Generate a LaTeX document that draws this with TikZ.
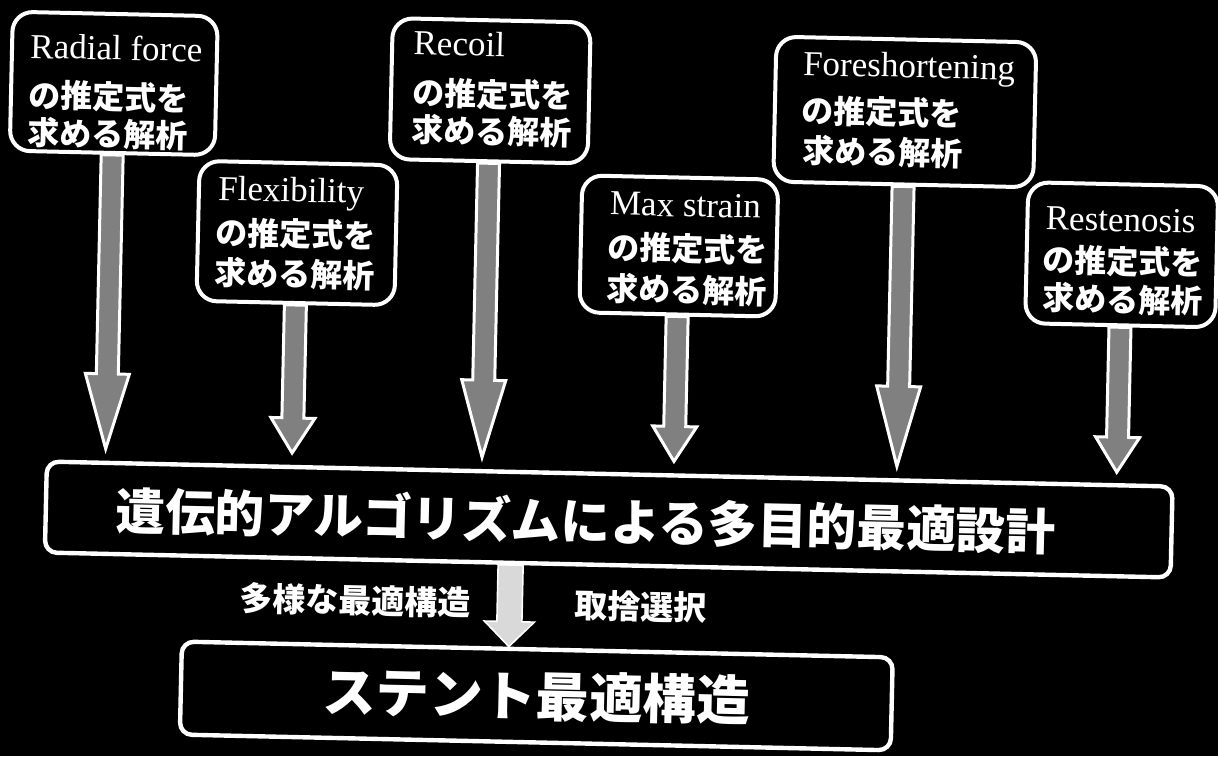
\documentclass[tikz,border=0pt]{standalone}
\usepackage{fontspec}
\setmainfont{Liberation Serif}
\newfontfamily\jp{Noto Sans CJK JP}
\newfontfamily\enfont{Liberation Serif}
\usetikzlibrary{calc}
\definecolor{arrowgray}{gray}{0.5}
\definecolor{smallgray}{gray}{0.85}
\tikzset{
  topbox/.style={draw=white, line width=2pt, rounded corners=10pt, inner sep=0pt},
  bigbox/.style={draw=white, line width=2.2pt, rounded corners=6pt, inner sep=0pt},
  engtxt/.style={text=white, font=\enfont\fontsize{17.5}{20}\selectfont, inner sep=0pt, anchor=base west},
  jptxt/.style={text=white, font=\jp\bfseries\fontsize{16}{19}\selectfont, inner sep=0pt, anchor=west},
  midtxt/.style={text=white, font=\jp\bfseries\fontsize{16.5}{19}\selectfont, inner sep=0pt},
  gatxt/.style={text=white, font=\jp\bfseries\fontsize{24.8}{28}\selectfont, inner sep=0pt},
  sttxt/.style={text=white, font=\jp\bfseries\fontsize{26.7}{30}\selectfont},
  blkarrow/.style={draw=white, line width=1.5pt, fill=arrowgray, line join=miter},
  smallarrow/.style={draw=white, line width=0.8pt, fill=smallgray, line join=miter}
}
\newcommand\blockarrow[3]{% start, tip, head length (px)
  \draw[blkarrow] ($(#1)+(-11,0)$) -- ($(#2)+(-11,-#3)$) -- ($(#2)+(-22,-#3)$) -- (#2)
    -- ($(#2)+(22,-#3)$) -- ($(#2)+(11,-#3)$) -- ($(#1)+(11,0)$) -- cycle;}
\begin{document}
\begin{tikzpicture}[x=0.5pt,y=-0.5pt]
\fill[black] (-8.4,13.4) rectangle (1209.6,769.4);
\useasboundingbox (-8.4,13.4) rectangle (1209.6,769.4);
\begin{scope}[rotate=-1.27, transform shape]
  % top boxes
  \node[topbox, minimum width=102.5pt, minimum height=69.5pt] (b1) at (107.5,94.5) {};
  \node[topbox, minimum width=99pt, minimum height=70pt] (b2) at (294,240) {};
  \node[topbox, minimum width=99pt, minimum height=70.5pt] (b3) at (484,93.5) {};
  \node[topbox, minimum width=98pt, minimum height=68.5pt] (b4) at (676,244.5) {};
  \node[topbox, minimum width=130pt, minimum height=72.5pt] (b5) at (899,105.5) {};
  \node[topbox, minimum width=95pt, minimum height=70.5pt] (b6) at (1119,243.5) {};
  % texts in top boxes
  \node[engtxt] (e1) at (23,71) {Radial force};
  \node[jptxt] (p1) at (22,108) {の推定式を};
  \node[jptxt] (q1) at (22,145) {求める解析};
  \node[engtxt] (e2) at (214,209) {Flexibility};
  \node[jptxt] (p2) at (212,241) {の推定式を};
  \node[jptxt] (q2) at (212,281) {求める解析};
  \node[engtxt] (e3) at (406,59) {Recoil};
  \node[jptxt] (p3) at (406,97) {の推定式を};
  \node[jptxt] (q3) at (406,134) {求める解析};
  \node[engtxt] (e4) at (606,215) {Max strain};
  \node[jptxt] (p4) at (605,247) {の推定式を};
  \node[jptxt] (q4) at (605,288) {求める解析};
  \node[engtxt] (e5) at (796,71) {Foreshortening};
  \node[jptxt] (p5) at (796,106) {の推定式を};
  \node[jptxt] (q5) at (797,146) {求める解析};
  \node[engtxt] (e6) at (1042,220) {Restenosis};
  \node[jptxt] (p6) at (1040,250) {の推定式を};
  \node[jptxt] (q6) at (1041,288) {求める解析};
  % big box
  \node[bigbox, minimum width=563pt, minimum height=45.5pt] (ga) at (612,519.5) {};
  \node[gatxt] (gat) at (589,521) {遺伝的アルゴリズムによる多目的最適設計};
  % bottom box
  \node[bigbox, sttxt, minimum width=355.5pt, minimum height=46.5pt, inner sep=0pt] (st) at (543.5,697.5) {ステント最適構造};
  % labels
  \node[midtxt] (l1) at (360,606) {多様な最適構造};
  \node[midtxt] (l2) at (646,606) {取捨選択};
  % arrow tips
  \coordinate (t1) at (107.5,460);
  \coordinate (t2) at (294,460);
  \coordinate (t3) at (484,460);
  \coordinate (t4) at (676,460);
  \coordinate (t5) at (899,460);
  \coordinate (t6) at (1119,461);
  \blockarrow{b1.south}{t1}{75}
  \blockarrow{b2.south}{t2}{35}
  \blockarrow{b3.south}{t3}{77}
  \blockarrow{b4.south}{t4}{35}
  \blockarrow{b5.south}{t5}{80}
  \blockarrow{b6.south}{t6}{35}
  % small arrow
  \draw[smallarrow] ($(ga.south)+(-109.5,0)$) -- ($(st.north)+(-41,-25)$) -- ($(st.north)+(-53.5,-25)$)
    -- ($(st.north)+(-28.5,0)$) -- ($(st.north)+(-3.5,-25)$) -- ($(st.north)+(-16,-25)$)
    -- ($(ga.south)+(-84.5,0)$) -- cycle;
\end{scope}
\end{tikzpicture}
\end{document}
